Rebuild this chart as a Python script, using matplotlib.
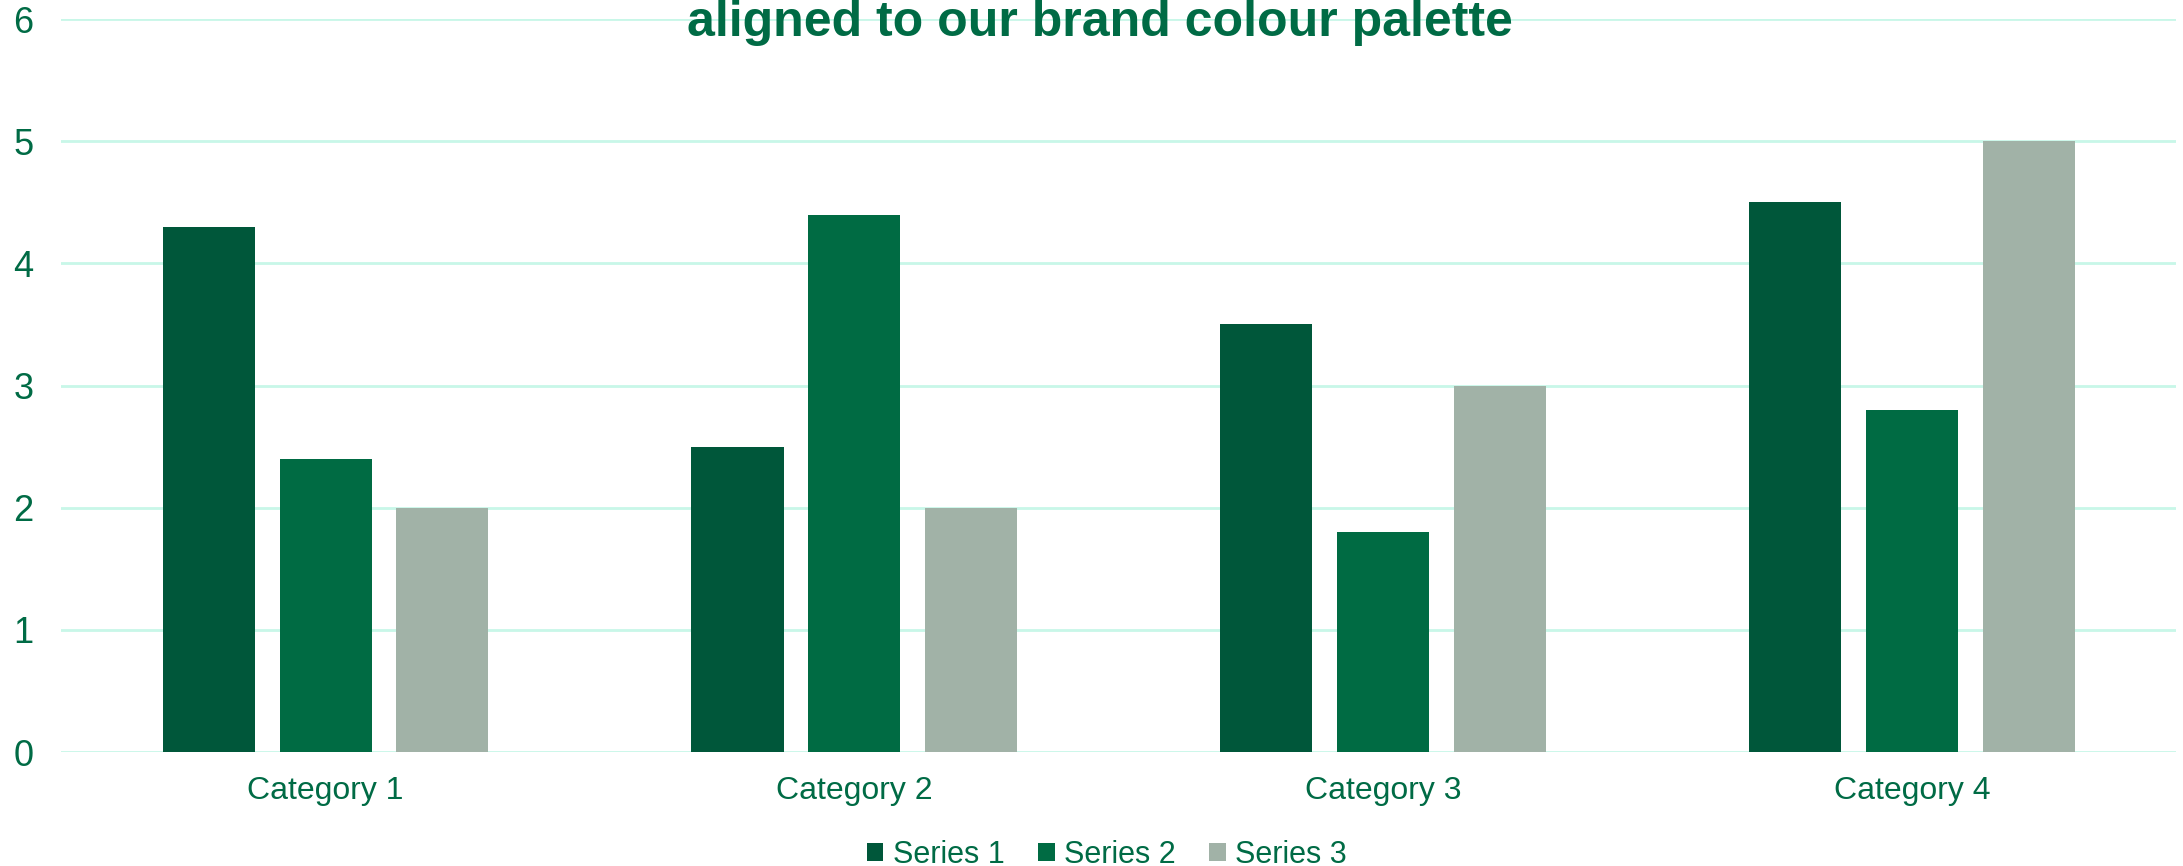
import numpy as np
import matplotlib
matplotlib.use('Agg')
import matplotlib.pyplot as plt
from matplotlib.patches import Patch

# Datos del gráfico
categorias = ['Category 1', 'Category 2', 'Category 3', 'Category 4']
series_nombres = ['Series 1', 'Series 2', 'Series 3']
serie1 = [4.3, 2.5, 3.5, 4.5]
serie2 = [2.4, 4.4, 1.8, 2.8]
serie3 = [2.0, 2.0, 3.0, 5.0]
yticks = [0, 1, 2, 3, 4, 5, 6]
titulo = 'aligned to our brand colour palette'

colores = ['#00573A', '#006B43', '#A1B2A7']
color_texto = '#006B45'
color_grid = '#C8F7E8'

plt.rcParams['font.family'] = ['Liberation Sans', 'DejaVu Sans']

fig = plt.figure(figsize=(21.83, 8.66), dpi=100)
ax = fig.add_axes([0.028, 0.1316, 0.969, 0.8464])

x = np.arange(len(categorias))
ancho = 0.174
desp = 0.221
for i, valores in enumerate([serie1, serie2, serie3]):
    ax.bar(x + (i - 1) * desp, valores, width=ancho, color=colores[i], zorder=3)

ax.set_xlim(-0.5, len(categorias) - 0.5)
ax.set_ylim(0, 6)
ax.set_yticks(yticks)
ax.set_xticks(x)
ax.set_xticklabels(categorias)
ax.yaxis.grid(True, color=color_grid, linewidth=2, zorder=0)
ax.set_axisbelow(True)
for s in ax.spines.values():
    s.set_visible(False)
ax.tick_params(axis='both', length=0, labelcolor=color_texto)
ax.tick_params(axis='x', labelsize=23, pad=17)
ax.tick_params(axis='y', labelsize=26, pad=20)

fig.text(0.504, 0.958, titulo, ha='center', va='baseline', fontsize=36,
         fontweight='bold', color=color_texto)

handles = [Patch(facecolor=c, edgecolor='none') for c in colores]
leg = fig.legend(handles, series_nombres, loc='center', bbox_to_anchor=(0.507, 0.013),
                 ncol=3, frameon=False, fontsize=22, handlelength=0.55, handleheight=0.55,
                 handletextpad=0.3, columnspacing=1.1)
for t in leg.get_texts():
    t.set_color(color_texto)

fig.savefig('out.png', dpi=100)
